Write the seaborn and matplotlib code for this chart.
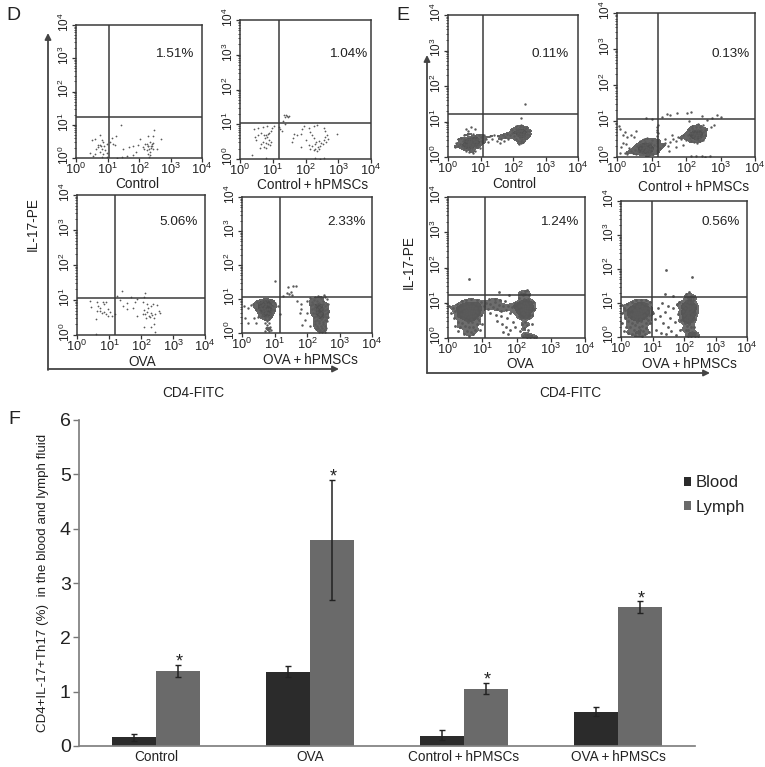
import numpy as np
import pandas as pd
import matplotlib
matplotlib.use("Agg")
import matplotlib.pyplot as plt
from matplotlib.transforms import ScaledTranslation
import seaborn as sns

# bar chart values
GROUPS = ["Control", "OVA", "Control\u2009+\u2009hPMSCs", "OVA\u2009+\u2009hPMSCs"]
BLOOD = [0.16, 1.36, 0.19, 0.63]
BLOOD_LOW = [0.10, 1.27, 0.11, 0.55]
BLOOD_HIGH = [0.22, 1.47, 0.30, 0.71]
LYMPH = [1.38, 3.79, 1.05, 2.55]
LYMPH_LOW = [1.27, 2.69, 0.95, 2.44]
LYMPH_HIGH = [1.50, 4.90, 1.16, 2.66]

DECADES = [1, 10, 100, 1000, 10000]
DECADE_LABELS = ["$10^{0}$", "$10^{1}$", "$10^{2}$", "$10^{3}$", "$10^{4}$"]

# flow cytometry events, (log10 CD4, log10 IL-17), estimated dot by dot
D_CONTROL = [
    (.50, .55), (.60, .58), (.75, .68), (.81, .53), (1.14, .61), (1.27, .67), (1.42, .98), (2.48, .83),
    (2.30, .65), (2.46, .67), (2.69, .57), (2.03, .57), (1.98, .38), (1.82, .35), (1.69, .33), (1.48, .26),
    (1.24, .38), (1.19, .43), (1.08, .48), (.97, .43), (.87, .48), (.76, .38), (.71, .33), (.65, .28),
    (.81, .28), (.92, .23), (.99, .15), (.87, .11), (.76, .18), (.60, .13), (.45, .15), (.55, .05),
    (.81, .03), (.97, .03), (1.30, .01), (1.46, .03), (1.61, .05), (1.80, .10), (1.92, .18), (2.14, .33),
    (2.19, .41), (2.25, .43), (2.35, .48), (2.40, .41), (2.30, .35), (2.46, .28), (2.56, .28), (2.33, .28),
    (2.25, .25), (2.16, .28), (2.35, .18), (2.35, .08), (2.33, .03), (2.30, .13), (2.37, .35), (2.43, .45),
    (.80, .35), (.70, .40), (.90, .35), (2.28, .35), (2.38, .30), (2.42, .36),
]
D_CONTROL_HPMSC = [
    (1.35, 1.27), (1.40, 1.26), (1.45, 1.25), (1.50, 1.24), (1.38, 1.20), (1.47, 1.20), (1.30, 1.08), (1.38, 1.02),
    (1.22, .85), (1.28, .80), (1.18, .92), (1.05, .95), (.98, .90), (.82, .95), (.70, .93), (.55, .90),
    (.42, .85), (.55, .70), (.50, .55), (.45, .62), (.65, .75), (.72, .70), (.78, .68), (.85, .72),
    (.90, .75), (.95, .80), (.75, .60), (.82, .62), (.88, .55), (.95, .50), (.70, .48), (.78, .45),
    (.85, .42), (.92, .40), (.65, .42), (.72, .35), (.60, .32), (.80, .32), (.38, .12), (.80, .02),
    (1.65, .72), (1.62, .60), (1.60, .48), (1.75, .68), (1.85, .72), (1.90, .85), (1.95, .95), (2.10, .88),
    (2.25, .95), (2.35, .98), (2.55, .90), (2.60, .80), (2.15, .78), (2.20, .70), (2.25, .60), (2.00, .55),
    (1.85, .35), (2.10, .40), (2.15, .30), (2.20, .38), (2.28, .42), (2.32, .48), (2.38, .35), (2.42, .52),
    (2.48, .45), (2.55, .55), (2.60, .62), (2.65, .70), (2.70, .58), (2.62, .48), (2.52, .42), (2.45, .38),
    (2.30, .30), (2.25, .25), (2.35, .22), (2.40, .28), (2.95, .72), (2.30, .02), (2.45, .01), (2.55, .03),
]
D_OVA = [
    (.42, .96), (.43, .80), (.62, .95), (.65, .82), (.62, .68), (.72, .70), (.80, .95), (.85, .90),
    (.92, .95), (.96, .75), (.72, .78), (.78, .62), (.85, .66), (.92, .60), (1.02, .65), (.58, .45),
    (.98, .55), (1.10, .55), (1.18, .60), (.58, .02), (1.35, 1.00), (1.42, 1.25), (1.25, 1.12), (1.68, 1.10),
    (1.88, 1.02), (2.10, 1.08), (2.12, 1.20), (1.45, .82), (1.55, .92), (1.82, .95), (2.05, .95), (2.18, .88),
    (2.22, .78), (2.30, .82), (2.38, .88), (2.50, .85), (2.55, .70), (2.20, .65), (2.30, .62), (2.10, .72),
    (2.12, .60), (2.25, .55), (2.35, .58), (2.45, .60), (2.60, .62), (1.88, .55), (2.05, .60), (2.15, .48),
    (2.28, .52), (2.40, .50), (2.30, .22), (2.10, .22), (2.45, .08), (2.42, .32), (1.55, .75), (1.75, .78),
]
D_OVA_HPMSC = [
    # negative population
    (.35, .85), (.42, .70), (.28, .82), (.18, .75), (.05, .78), (.48, .48), (.38, .45), (.42, .30),
    (.45, .92), (.52, .88), (.58, .92), (.62, .95), (.68, .98), (.72, .92), (.78, .96), (.85, .98),
    (.90, .92), (.95, .95), (1.00, .88), (.55, .80), (.60, .82), (.66, .85), (.70, .80), (.75, .84),
    (.80, .86), (.85, .82), (.90, .78), (.95, .80), (.52, .72), (.58, .75), (.62, .70), (.68, .74),
    (.72, .68), (.78, .72), (.82, .70), (.88, .66), (.92, .72), (.98, .68), (.55, .62), (.60, .60),
    (.65, .64), (.70, .58), (.74, .62), (.80, .60), (.85, .56), (.90, .60), (.60, .50), (.66, .52),
    (.72, .48), (.78, .50), (.84, .46), (.88, .50), (.70, .40), (.76, .36), (.82, .40), (.72, .28),
    (.78, .24), (.84, .30), (.74, .16), (.80, .12), (.86, .18), (.90, .10), (.82, .05), (.72, .06),
    # CD4 positive population
    (2.00, .95), (2.10, 1.02), (2.15, .92), (2.20, .98), (2.25, 1.05), (2.30, .95), (2.35, 1.10), (2.42, 1.02),
    (2.48, .95), (2.52, 1.12), (2.55, 1.05), (2.60, 1.00), (2.12, .82), (2.18, .85), (2.24, .80), (2.30, .84),
    (2.36, .88), (2.42, .82), (2.48, .86), (2.54, .80), (2.60, .85), (2.14, .70), (2.20, .74), (2.26, .68),
    (2.32, .72), (2.38, .76), (2.44, .70), (2.50, .74), (2.56, .68), (2.62, .72), (2.18, .60), (2.24, .58),
    (2.30, .62), (2.36, .56), (2.42, .60), (2.48, .64), (2.54, .56), (2.60, .60), (2.22, .48), (2.28, .50),
    (2.34, .46), (2.40, .52), (2.46, .44), (2.52, .50), (2.58, .46), (2.24, .36), (2.30, .38), (2.36, .34),
    (2.42, .40), (2.48, .32), (2.54, .38), (2.26, .26), (2.32, .22), (2.38, .28), (2.44, .20), (2.50, .26),
    (2.56, .22), (2.28, .12), (2.34, .16), (2.40, .08), (2.46, .14), (2.52, .10), (2.58, .14), (2.36, .03),
    (2.46, .04), (2.54, .02), (2.62, .35), (2.66, .62), (2.66, .85), (2.65, .48),
    # between the populations and above the gate
    (1.02, 1.53), (1.40, 1.35), (1.58, 1.38), (1.65, 1.38), (1.38, 1.18), (1.45, 1.15), (1.50, 1.22), (1.55, 1.12),
    (1.25, 1.10), (1.70, .95), (1.80, .85), (1.82, .70), (1.78, .60), (2.00, .60), (1.95, .38), (1.85, .25),
    (2.08, .22), (1.10, .80), (1.18, .55), (.18, .30), (.10, .45),
]
E_CONTROL = [
    # left population
    (.72, .42), (.65, .45), (.78, .38), (.60, .38), (.70, .50), (.82, .46), (.75, .30), (.62, .30),
    (.85, .36), (.55, .45), (.68, .34), (.80, .52), (.90, .42), (.50, .36), (.74, .24), (.64, .22),
    (.88, .28), (.95, .38), (.58, .52), (.72, .56), (.84, .58), (.92, .50), (.46, .44), (.42, .30),
    (.36, .36), (.30, .32), (.26, .40), (.22, .28), (.50, .24), (.56, .18), (.66, .14), (.76, .12),
    (.84, .18), (.98, .26), (1.02, .44), (1.00, .56), (.94, .62), (.78, .66), (.62, .64), (.50, .62),
    (.40, .54), (.32, .50), (.55, .80), (.60, .72), (.72, .84), (.82, .78), (.68, .40), (.76, .48),
    (.62, .42), (.70, .28), (.78, .34), (.86, .44), (.56, .34), (.66, .50), (.80, .42), (.74, .36),
    (.88, .52), (.52, .28), (.64, .36), (.72, .46), (.60, .26), (.82, .32), (.92, .34), (.48, .50),
    # bridge
    (1.10, .62), (1.18, .52), (1.22, .42), (1.28, .58), (1.35, .50), (1.42, .62), (1.50, .46), (1.55, .58),
    (1.62, .52), (1.68, .62), (1.75, .56), (1.82, .66), (1.72, .44), (1.60, .40), (1.85, .52), (1.92, .62),
    # right population
    (2.24, .66), (2.18, .72), (2.30, .60), (2.12, .62), (2.22, .54), (2.34, .70), (2.28, .76), (2.14, .80),
    (2.06, .70), (2.04, .58), (2.38, .62), (2.42, .72), (2.20, .84), (2.32, .84), (2.44, .56), (2.36, .50),
    (2.26, .46), (2.16, .46), (2.08, .50), (1.98, .68), (1.98, .76), (2.10, .88), (2.26, .90), (2.40, .82),
    (2.50, .74), (2.48, .62), (2.20, .66), (2.26, .72), (2.16, .68), (2.30, .66), (2.24, .58), (2.18, .58),
    (2.34, .56), (2.12, .72), (2.28, .52), (2.20, .76), (2.36, .78), (2.08, .80), (2.42, .66), (2.24, .40),
    (2.18, .36), (2.30, .42), (2.25, 1.10), (2.38, 1.50),
]
E_CONTROL_HPMSC = [
    # left population
    (.85, .23), (.78, .28), (.92, .18), (.72, .20), (.82, .34), (.95, .30), (.88, .12), (.75, .10),
    (.98, .10), (.66, .26), (.80, .42), (.92, .40), (1.02, .22), (.62, .16), (.70, .36), (1.06, .34),
    (.84, .06), (.94, .05), (1.04, .08), (.58, .30), (.68, .44), (.78, .50), (.88, .52), (1.00, .48),
    (.52, .20), (.46, .12), (.56, .08), (.86, .20), (.80, .16), (.90, .26), (.76, .32), (.84, .28),
    (.96, .22), (.70, .14), (.74, .24), (.88, .36), (.98, .38), (.82, .18), (.92, .12), (.64, .34),
    # scattered top left
    (.05, .85), (.10, .78), (.16, .62), (.22, .70), (.30, .55), (.18, .40), (.26, .35), (.12, .28),
    (.35, .25), (.08, .10), (.22, .12), (.42, .62), (.50, .55), (.55, .72), (.40, .18), (.30, .08),
    # gate-hugging column
    (1.17, .10), (1.16, .20), (1.17, .30), (1.16, .40), (1.17, .50), (1.16, .58), (1.18, .66), (1.17, .74),
    (1.16, .82), (1.18, .90), (1.17, .16), (1.17, .44), (1.16, .70),
    # bridge
    (1.25, .25), (1.32, .32), (1.40, .38), (1.48, .30), (1.55, .42), (1.62, .50), (1.70, .44), (1.78, .56),
    (1.85, .50), (1.92, .60), (1.38, .50), (1.58, .60), (1.72, .28), (1.90, .34), (1.50, .18), (2.00, .48),
    # right population
    (2.31, .62), (2.25, .68), (2.38, .56), (2.20, .58), (2.30, .50), (2.42, .66), (2.34, .74), (2.20, .76),
    (2.12, .66), (2.12, .54), (2.46, .58), (2.50, .70), (2.28, .84), (2.40, .82), (2.50, .48), (2.42, .44),
    (2.32, .40), (2.22, .42), (2.14, .44), (2.06, .62), (2.08, .76), (2.18, .86), (2.34, .92), (2.48, .88),
    (2.56, .76), (2.54, .60), (2.28, .62), (2.34, .66), (2.24, .64), (2.38, .62), (2.30, .56), (2.26, .54),
    (2.40, .52), (2.18, .68), (2.36, .48), (2.28, .74), (2.44, .74), (2.16, .80),
    # near and above the gate
    (.85, 1.08), (1.00, 1.06), (1.30, 1.10), (1.45, 1.20), (1.55, 1.18), (1.75, 1.22), (2.02, 1.22), (2.15, 1.25),
    (2.45, 1.15), (2.75, 1.08), (2.90, 1.18), (2.10, 1.00), (2.60, 1.02), (2.80, .90), (2.72, .82), (3.00, 1.10),
    (2.30, .02), (2.45, .03), (2.55, .01), (2.70, .03), (2.15, .02),
]
E_OVA = [
    # left population
    (.60, .75), (.52, .80), (.68, .70), (.46, .72), (.58, .86), (.70, .84), (.64, .62), (.50, .62),
    (.76, .76), (.42, .84), (.56, .68), (.74, .92), (.80, .66), (.38, .68), (.66, .54), (.54, .52),
    (.82, .86), (.86, .74), (.48, .96), (.62, .98), (.78, 1.00), (.88, .96), (.34, .82), (.30, .62),
    (.44, .56), (.58, .44), (.70, .46), (.84, .56), (.92, .84), (.96, .66), (.90, .50), (.40, 1.04),
    (.54, 1.08), (.68, 1.10), (.84, 1.08), (.96, 1.02), (.26, .96), (.20, .78), (.14, .86), (.08, .70),
    (.04, .90), (.18, .56), (.28, .46), (.40, .42), (.50, .34), (.62, .30), (.74, .32), (.84, .40),
    (.98, .40), (.60, .80), (.54, .74), (.66, .78), (.48, .78), (.62, .68), (.70, .76), (.56, .90),
    (.64, .90), (.74, .62), (.52, .68), (.78, .84), (.44, .66), (.58, .60), (.68, .62), (.82, .78),
    (.50, .88), (.60, .72), (.56, .78), (.64, .84), (.72, .70), (.46, .88), (.36, .30), (.56, .20),
    (.68, .16), (.80, .22), (.94, .24), (.48, .12), (.62, .06), (.74, .10), (.30, .20), (.20, .34),
    # bridge
    (1.05, .90), (1.12, 1.00), (1.18, .82), (1.22, .96), (1.30, .88), (1.36, 1.02), (1.42, .82), (1.48, .94),
    (1.54, .76), (1.60, .90), (1.66, 1.04), (1.70, .80), (1.76, .92), (1.82, .72), (1.88, .88), (1.24, .70),
    (1.40, .66), (1.56, .62), (1.72, .56), (1.52, 1.08), (1.36, 1.12), (1.20, 1.12), (1.58, .40), (1.68, .30),
    (1.80, .24), (1.44, .48), (1.90, .46), (1.96, .30), (1.60, .16), (1.75, .12),
    # right population
    (2.25, .85), (2.18, .92), (2.30, .78), (2.12, .80), (2.22, .68), (2.34, .90), (2.28, 1.00), (2.14, 1.04),
    (2.06, .92), (2.04, .74), (2.38, .76), (2.42, .92), (2.22, 1.12), (2.34, 1.10), (2.44, .64), (2.36, .58),
    (2.26, .56), (2.14, .58), (2.08, .62), (1.98, .84), (1.96, .98), (2.08, 1.14), (2.26, 1.24), (2.36, 1.22),
    (2.48, 1.02), (2.50, .82), (2.24, .80), (2.30, .84), (2.18, .82), (2.26, .92), (2.20, .74), (2.32, .70),
    (2.16, .70), (2.28, .62), (2.38, 1.00), (2.12, .94), (2.22, 1.00), (2.30, .96), (2.40, .84), (2.24, .46),
    (2.16, .40), (2.30, .36), (2.22, .28), (2.34, .22), (2.26, .12), (2.36, .08), (2.20, .05), (2.30, .03),
    (2.40, .02), (2.10, .20), (2.44, .40), (2.18, 1.22), (2.24, 1.32), (2.32, 1.36), (2.14, 1.28),
    # outliers and above the gate
    (.62, 1.68), (1.50, 1.30), (1.78, 1.22), (2.50, .02), (2.58, .04),
]
E_OVA_HPMSC = [
    # left population
    (.54, .75), (.46, .80), (.62, .70), (.40, .72), (.52, .86), (.66, .84), (.58, .62), (.44, .62),
    (.70, .76), (.36, .84), (.50, .68), (.68, .92), (.74, .66), (.32, .68), (.60, .54), (.48, .52),
    (.78, .86), (.82, .74), (.42, .96), (.56, .98), (.72, 1.00), (.84, .96), (.28, .82), (.24, .62),
    (.38, .56), (.52, .44), (.64, .46), (.78, .56), (.88, .84), (.90, .66), (.86, .50), (.34, 1.04),
    (.48, 1.08), (.62, 1.10), (.78, 1.08), (.92, 1.02), (.20, .96), (.14, .78), (.08, .86), (.04, .70),
    (.02, .95), (.12, .56), (.22, .46), (.34, .42), (.44, .34), (.56, .30), (.68, .32), (.78, .40),
    (.92, .40), (.54, .80), (.48, .74), (.60, .78), (.42, .78), (.56, .68), (.64, .76), (.50, .90),
    (.58, .90), (.68, .62), (.46, .68), (.72, .84), (.38, .66), (.52, .60), (.62, .62), (.76, .78),
    (.30, .30), (.40, .20), (.50, .16), (.60, .22), (.70, .18), (.80, .26), (.36, .10), (.46, .06),
    (.56, .08), (.66, .04), (.76, .10), (.88, .14), (.16, .30), (.08, .18), (.22, .12), (.04, .40),
    # right population
    (2.18, .75), (2.12, .82), (2.24, .68), (2.06, .70), (2.16, .60), (2.26, .80), (2.20, .90), (2.08, .94),
    (2.02, .84), (2.00, .64), (2.28, .66), (2.30, .84), (2.16, 1.02), (2.26, 1.02), (2.32, .54), (2.26, .46),
    (2.18, .46), (2.08, .50), (2.02, .52), (1.96, .76), (1.96, .90), (2.06, 1.06), (2.20, 1.14), (2.30, 1.10),
    (2.34, .94), (2.36, .72), (2.14, .72), (2.22, .76), (2.10, .76), (2.18, .84), (2.12, .64), (2.22, .60),
    (2.08, .60), (2.20, .52), (2.28, .92), (2.04, .96), (2.14, .90), (2.24, .88), (2.16, .38), (2.10, .32),
    (2.22, .28), (2.14, .20), (2.26, .16), (2.18, .10), (2.28, .06), (2.12, .04), (2.22, .02), (2.32, .30),
    (2.06, .22), (2.34, .12), (2.04, .40), (2.12, 1.16), (2.22, 1.22), (2.30, 1.18),
    # between the populations
    (1.00, .70), (1.08, .52), (1.16, .84), (1.24, .62), (1.32, .40), (1.40, .74), (1.48, .30), (1.56, .56),
    (1.64, .86), (1.72, .44), (1.80, .68), (1.88, .22), (1.92, .50), (1.12, .22), (1.28, .12), (1.44, .08),
    (1.60, .18), (1.76, .06), (1.50, .92), (1.30, 1.00), (1.78, .96), (1.84, 1.04),
    # outliers and above the gate
    (1.42, 1.96), (2.24, 1.76), (1.40, 1.26), (2.15, 1.32), (2.06, 1.26), (1.64, 1.20), (2.35, .02), (2.45, .03),
]

# pixel boxes of the cytometry plots: left, right, top, bottom, gate x, gate y
PANEL_BOXES = [
    (76, 202, 25, 158, 109, 117), (240, 371, 20, 159, 279, 123),
    (77, 205, 195, 335, 115, 298), (242, 372, 197, 333, 280, 297),
    (448, 578, 15, 157, 483, 114), (617, 755, 13, 157, 658, 119),
    (448, 585, 197, 338, 485, 295), (621, 747, 201, 337, 652, 297),
]
PANEL_POINTS = [D_CONTROL, D_CONTROL_HPMSC, D_OVA, D_OVA_HPMSC, E_CONTROL, E_CONTROL_HPMSC, E_OVA, E_OVA_HPMSC]
PANEL_DOT_SIZE = [1.6, 1.6, 1.6, 3.0, 3.0, 3.0, 4.0, 4.0]
# iso-proportions for the shaded core of the dense plots, None means dots only
PANEL_CORE = [None, None, None, [0.45, 0.8, 1], [0.3, 0.7, 1], [0.5, 0.8, 1], [0.3, 0.6, 1], [0.3, 0.6, 1]]
PERCENTS = ["1.51%", "1.04%", "5.06%", "2.33%", "0.11%", "0.13%", "1.24%", "0.56%"]
PERCENT_POS = [(174, 54), (348, 54), (179, 222), (347, 222), (550, 54), (731, 54), (559, 222), (721, 222)]
NAMES = ["Control", "Control\u2009+\u2009hPMSCs", "OVA", "OVA\u2009+\u2009hPMSCs"] * 2
NAME_POS = [(137, 184), (313, 185), (142, 362), (310, 360), (514, 184), (694, 187), (520, 364), (689, 364)]

W, H = 765, 767
DARK = "#2b2b2b"
GREY = "#6a6a6a"


def pixel_axes(fig, left, right, top, bottom):
    return fig.add_axes([left / W, 1 - bottom / H, (right - left) / W, (bottom - top) / H])


def plot_cytometry(fig, box, points, size, core):
    left, right, top, bottom, gate_x, gate_y = box
    ax = pixel_axes(fig, left, right, top, bottom)
    df = 10 ** pd.DataFrame(points, columns=["cd4", "il17"])
    if core is not None:
        shade = sns.blend_palette(["#707070", "#454545"], as_cmap=True)
        sns.kdeplot(data=df, x="cd4", y="il17", ax=ax, log_scale=True, fill=True, levels=core,
                    bw_adjust=0.42, cmap=shade, zorder=1)
    sns.scatterplot(data=df, x="cd4", y="il17", ax=ax, s=size, color="#5a5a5a", linewidth=0, legend=False, zorder=2)
    ax.set(xscale="log", yscale="log", xlim=(1, 10000), ylim=(1, 10000), xlabel="", ylabel="")
    ax.set_xticks(DECADES, DECADE_LABELS)
    ax.set_yticks(DECADES, DECADE_LABELS)
    ax.tick_params(axis="both", which="major", length=3, width=0.9, labelsize=9.2, pad=0, left=True, bottom=True, color="#333333", labelcolor="#222222")
    ax.tick_params(axis="y", which="major", labelsize=8.5)
    ax.tick_params(axis="both", which="minor", length=1.5, width=0.6, left=True, bottom=True, color="#333333")
    plt.setp(ax.get_yticklabels(), rotation=90, va="center")
    # the rotated y labels sit a little above their ticks on the original
    lift = ScaledTranslation(0, 2 / 72, fig.dpi_scale_trans)
    for label in ax.get_yticklabels():
        label.set_transform(label.get_transform() + lift)
    for spine in ax.spines.values():
        spine.set_linewidth(1.1)
        spine.set_color("#3a3a3a")
    # quadrant gates sit at a pixel position on the original
    ax.axvline(10 ** (4 * (gate_x - left) / (right - left)), color="#3a3a3a", lw=1.1, zorder=3)
    ax.axhline(10 ** (4 * (bottom - gate_y) / (bottom - top)), color="#3a3a3a", lw=1.1, zorder=3)


def plot_bars(fig):
    ax = pixel_axes(fig, 79, 695, 420, 746)
    df = pd.DataFrame({
        "group": GROUPS * 2,
        "tissue": ["Blood"] * 4 + ["Lymph"] * 4,
        "value": BLOOD + LYMPH,
    })
    sns.barplot(data=df, x="group", y="value", hue="tissue", ax=ax, palette=[DARK, GREY],
                width=0.571, gap=0, errorbar=None, saturation=1, linewidth=0)
    sns.move_legend(ax, "upper left", bbox_to_anchor=(0.982, 0.83), title=None, frameon=False, borderpad=0, borderaxespad=0,
                    handlelength=0.42, handleheight=0.42, handletextpad=0.3, labelspacing=0.55, fontsize=12)
    for label in ax.get_legend().get_texts():
        label.set_color("#222222")
    ax.set_xlim(-0.5, 3.5)
    ax.set_ylim(0, 6)
    ax.set_xlabel("")
    ax.set_ylabel("")
    ax.set_yticks(range(7))
    ax.tick_params(axis="y", length=4, width=1, labelsize=14, pad=2, left=True, color="#777777", labelcolor="#222222")
    ax.tick_params(axis="x", length=0, labelsize=9.8, pad=3, labelcolor="#222222")
    sns.despine(ax=ax)
    ax.spines["left"].set_color("#808080")
    ax.spines["bottom"].set_color("#808080")

    # whiskers and stars go on the centres of the drawn bars
    lows = [BLOOD_LOW, LYMPH_LOW]
    highs = [BLOOD_HIGH, LYMPH_HIGH]
    for k, container in enumerate(list(ax.containers)):
        for i, bar in enumerate(container):
            centre = bar.get_x() + bar.get_width() / 2
            val = bar.get_height()
            ax.errorbar(centre, val, yerr=[[val - lows[k][i]], [highs[k][i] - val]], color="#222222", lw=1.1, capsize=2.5, capthick=1)
            if k == 1:
                ax.text(centre + 0.01, highs[k][i] + 0.055, "*", ha="center", va="center", fontsize=13, color="#222222")
    return ax


def draw_frame(fig):
    # full figure overlay in pixel units, for arrows and free text
    ov = fig.add_axes([0, 0, 1, 1], zorder=-1)
    ov.set_xlim(0, W)
    ov.set_ylim(H, 0)
    ov.axis("off")
    arrow = dict(arrowstyle="-|>", color="#444444", lw=1.3, mutation_scale=9, shrinkA=0, shrinkB=0)
    ov.annotate("", xy=(48, 33), xytext=(48, 370), arrowprops=arrow)
    ov.annotate("", xy=(339, 369), xytext=(48, 369), arrowprops=arrow)
    ov.annotate("", xy=(427, 55), xytext=(427, 373), arrowprops=arrow)
    ov.annotate("", xy=(710, 373), xytext=(427, 373), arrowprops=arrow)

    txt = dict(ha="center", va="center", color="#222222")
    for s, pos in zip(NAMES, NAME_POS):
        ov.text(pos[0], pos[1], s, fontsize=9.8, **txt)
    ov.text(33, 224, "IL-17-PE", fontsize=9.8, rotation=90, **txt)
    ov.text(409, 262, "IL-17-PE", fontsize=9.8, rotation=90, **txt)
    ov.text(193, 393, "CD4-FITC", fontsize=9.8, **txt)
    ov.text(570, 393, "CD4-FITC", fontsize=9.8, **txt)
    ov.text(13, 16, "D", fontsize=14, **txt)
    ov.text(403, 15, "E", fontsize=14, **txt)
    ov.text(14, 420, "F", fontsize=14, **txt)
    ov.text(43, 583, "CD4+IL-17+Th17 (%)  in the blood and lymph fluid", fontsize=9.6, rotation=90, **txt)


def draw_percents(fig):
    # percentages sit on top of the plots, so they need their own clear layer
    top = fig.add_axes([0, 0, 1, 1], zorder=5, facecolor="none")
    top.set_xlim(0, W)
    top.set_ylim(H, 0)
    top.axis("off")
    for s, pos in zip(PERCENTS, PERCENT_POS):
        top.text(pos[0], pos[1], s, fontsize=9.7, ha="center", va="center", color="#222222")


if __name__ == "__main__":
    sns.set_theme(style="white")
    plt.rcParams["font.family"] = ["Liberation Sans", "DejaVu Sans"]
    plt.rcParams["mathtext.default"] = "regular"
    plt.rcParams["mathtext.fontset"] = "custom"
    plt.rcParams["mathtext.rm"] = "Liberation Sans"

    fig = plt.figure(figsize=(W / 100, H / 100), dpi=100)
    draw_frame(fig)
    for box, points, size, core in zip(PANEL_BOXES, PANEL_POINTS, PANEL_DOT_SIZE, PANEL_CORE):
        plot_cytometry(fig, box, points, size, core)
    plot_bars(fig)
    draw_percents(fig)
    fig.savefig("out.png", dpi=100)
    plt.close(fig)
